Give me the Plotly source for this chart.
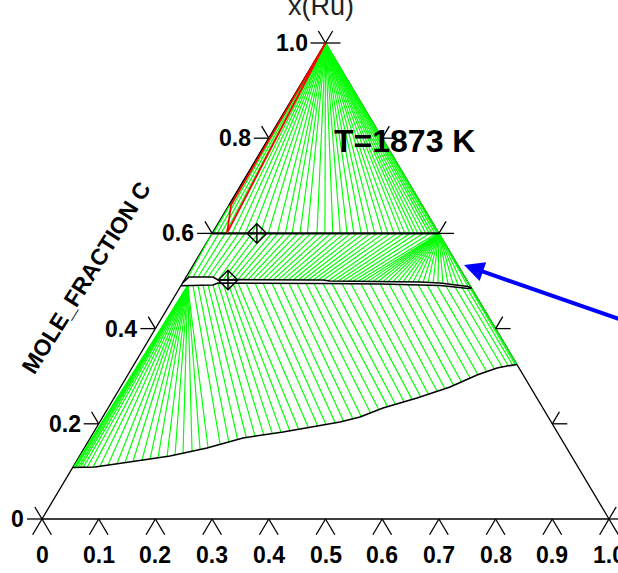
import plotly.graph_objects as go

# ---------------- data (mole fractions: A = bottom-axis component, C = MOLE_FRACTION C) -------------
LEFT_TICKS = [0, 0.2, 0.4, 0.6, 0.8, 1.0]
LEFT_LABELS = ["0", "0.2", "0.4", "0.6", "0.8", "1.0"]
RIGHT_TICKS = [0, 0.2, 0.4, 0.6, 0.8, 1.0]
BOTTOM_TICKS = [0, 0.1, 0.2, 0.3, 0.4, 0.5, 0.6, 0.7, 0.8, 0.9, 1.0]
BOTTOM_LABELS = ["0", "0.1", "0.2", "0.3", "0.4", "0.5", "0.6", "0.7", "0.8", "0.9", "1.0"]

# liquid boundary (lower curve)
LIQ_A = [0.0, 0.0389, 0.1162, 0.1595, 0.2164, 0.2694, 0.3336, 0.3761, 0.4237, 0.4537,
         0.4848, 0.5343, 0.581, 0.616, 0.6439, 0.6594, 0.6756]
LIQ_C = [0.108, 0.1092, 0.1239, 0.1324, 0.1492, 0.1702, 0.1828, 0.1933, 0.2038, 0.2143,
         0.2332, 0.2542, 0.2773, 0.3025, 0.3172, 0.3214, 0.3244]

# MC band boundaries
MC_UP_A = [0.0, 0.005, 0.0474, 0.0594, 0.0977, 0.204, 0.2446, 0.258, 0.3467, 0.4177, 0.454, 0.4821, 0.5071, 0.5147]
MC_UP_C = [0.496, 0.5084, 0.5084, 0.5021, 0.503, 0.5021, 0.5021, 0.500, 0.4989, 0.4979, 0.4958, 0.4926, 0.4884, 0.4853]
MC_LO_A = [0.0, 0.016, 0.0558, 0.0625, 0.1013, 0.2077, 0.2483, 0.3493, 0.4204, 0.4567, 0.4847, 0.5092, 0.5147]
MC_LO_C = [0.490, 0.4905, 0.4916, 0.4958, 0.4958, 0.4947, 0.4947, 0.4937, 0.4926, 0.4905, 0.4874, 0.4842, 0.4853]

# line compound at C = 0.6
M2C3_C = 0.6
M2C3_A = [0.0, 0.4]

# tie lines graphite (C=1) -> C=0.6 compound
UP_TIE_A = [0.002, 0.009, 0.016, 0.023, 0.035, 0.046, 0.058, 0.071, 0.085, 0.099, 0.115, 0.129,
            0.141, 0.155, 0.168, 0.185, 0.199, 0.213, 0.226, 0.238, 0.250, 0.263, 0.275, 0.287,
            0.300, 0.310, 0.321, 0.332, 0.340, 0.349, 0.356, 0.363, 0.370, 0.377, 0.383, 0.388,
            0.393, 0.397, 0.400]

# tie lines MC band (upper side) -> C=0.6 compound
MID_MC_A = [0.0033, 0.0121, 0.0209, 0.0298, 0.0386, 0.0474, 0.0594, 0.0680, 0.0765, 0.0853,
            0.0941, 0.1030, 0.1118, 0.1206, 0.1296, 0.1385, 0.1473, 0.1561, 0.1651, 0.1739,
            0.1828, 0.1917, 0.2005, 0.2093, 0.2181, 0.2269, 0.2358, 0.2446, 0.2541, 0.2632,
            0.2721, 0.2810, 0.2899, 0.2987, 0.3076, 0.3165, 0.3254, 0.3343, 0.3431, 0.3521,
            0.3609, 0.3698, 0.3788, 0.3876, 0.3965, 0.4053, 0.4142, 0.4233, 0.4324, 0.4415,
            0.4505, 0.4596, 0.4690, 0.4784, 0.4879, 0.4976, 0.5071, 0.5147]
MID_MC_C = [0.5084, 0.5084, 0.5084, 0.5084, 0.5084, 0.5084, 0.5021, 0.5025, 0.5030, 0.5032,
            0.5032, 0.5030, 0.5030, 0.5030, 0.5027, 0.5027, 0.5025, 0.5025, 0.5023, 0.5023,
            0.5021, 0.5021, 0.5021, 0.5021, 0.5021, 0.5021, 0.5021, 0.5021, 0.5006, 0.5000,
            0.4999, 0.4998, 0.4997, 0.4996, 0.4995, 0.4993, 0.4992, 0.4991, 0.4990, 0.4987,
            0.4986, 0.4985, 0.4983, 0.4982, 0.4981, 0.4980, 0.4979, 0.4974, 0.4968, 0.4963,
            0.4958, 0.4952, 0.4941, 0.4931, 0.4916, 0.4899, 0.4884, 0.4853]
MID_CMP_A = [0.000, 0.012, 0.023, 0.035, 0.047, 0.058, 0.070, 0.081, 0.093, 0.105,
             0.116, 0.128, 0.140, 0.151, 0.163, 0.174, 0.186, 0.198, 0.209, 0.221,
             0.233, 0.244, 0.256, 0.267, 0.279, 0.291, 0.302, 0.314, 0.326, 0.337,
             0.349, 0.360, 0.372, 0.384, 0.395, 0.400, 0.400, 0.400, 0.400, 0.400,
             0.400, 0.400, 0.400, 0.400, 0.400, 0.400, 0.400, 0.400, 0.400, 0.400,
             0.400, 0.400, 0.400, 0.400, 0.400, 0.400, 0.400, 0.400]

# tie lines MC band (lower side) -> liquid
LOW_MC_A = [0.012] * 23 + [
    0.0209, 0.0296, 0.0384, 0.0471, 0.0558, 0.0625, 0.0713, 0.0801, 0.0890, 0.0978,
    0.1120, 0.1279, 0.1421, 0.1580, 0.1722, 0.1881, 0.2024, 0.2183, 0.2324, 0.2483,
    0.2643, 0.2820, 0.2980, 0.3157, 0.3316, 0.3493, 0.3653, 0.3830, 0.3990, 0.4168,
    0.4331, 0.4512, 0.4680, 0.4847, 0.4979, 0.5073, 0.5125, 0.5147]
LOW_MC_C = [0.490] * 23 + [
    0.4908, 0.4910, 0.4912, 0.4914, 0.4916, 0.4958, 0.4958, 0.4958, 0.4958, 0.4958,
    0.4957, 0.4956, 0.4954, 0.4952, 0.4952, 0.4950, 0.4947, 0.4947, 0.4947, 0.4947,
    0.4945, 0.4943, 0.4941, 0.4939, 0.4939, 0.4937, 0.4935, 0.4933, 0.4931, 0.4926,
    0.4918, 0.4908, 0.4891, 0.4874, 0.4857, 0.4847, 0.4849, 0.4853]
LOW_LIQ_A = [0.001, 0.0026, 0.0044, 0.0062, 0.0098, 0.0133, 0.0186, 0.0253, 0.0354, 0.0467,
             0.0595, 0.0740, 0.0869, 0.0998, 0.1146, 0.1274, 0.1402, 0.1548, 0.1672, 0.1794,
             0.1933, 0.2056, 0.2178,
             0.2358, 0.2486, 0.2616, 0.2747, 0.2887, 0.3027, 0.3166, 0.3307, 0.3443, 0.3580,
             0.3732, 0.3881, 0.4014, 0.4161, 0.4289, 0.4429, 0.4553, 0.4680, 0.4792, 0.4915,
             0.5028, 0.5154, 0.5268, 0.5394, 0.5504, 0.5627, 0.5738, 0.5856, 0.5957, 0.6069,
             0.6172, 0.6293, 0.6402, 0.6520, 0.6615, 0.6686, 0.6727, 0.6756]
LOW_LIQ_C = [0.1078, 0.1076, 0.1076, 0.1076, 0.1074, 0.1074, 0.1074, 0.1082, 0.1090, 0.1113,
             0.1139, 0.1166, 0.1191, 0.1214, 0.1237, 0.1263, 0.1288, 0.1315, 0.1349, 0.1387,
             0.1426, 0.1462, 0.1500,
             0.1569, 0.1620, 0.1668, 0.1712, 0.1740, 0.1767, 0.1794, 0.1821, 0.1855, 0.1889,
             0.1926, 0.1960, 0.1987, 0.2021, 0.2057, 0.2105, 0.2151, 0.2229, 0.2296, 0.2361,
             0.2410, 0.2464, 0.2513, 0.2567, 0.2622, 0.2683, 0.2737, 0.2807, 0.2880, 0.2962,
             0.3032, 0.3097, 0.3153, 0.3193, 0.3218, 0.3231, 0.3240, 0.3244]

# three-phase triangle (red)
RED_A = [0.0, 0.0035, 0.026, 0.0]
RED_C = [1.0, 0.660, 0.601, 1.0]

# diamond markers
DIA_A = [0.079, 0.077]
DIA_C = [0.600, 0.502]

TEMP_LABEL = "T=1873 K"


def tx(a, c):
    return a + c / 2.0


def seg_trace(pairs, color, width):
    xs, ys = [], []
    for (a1, c1, a2, c2) in pairs:
        xs += [tx(a1, c1), tx(a2, c2), None]
        ys += [c1, c2, None]
    return go.Scatter(x=xs, y=ys, mode="lines", line=dict(color=color, width=width),
                      hoverinfo="skip")


def poly_trace(A, C, color, width):
    return go.Scatter(x=[tx(a, c) for a, c in zip(A, C)], y=list(C), mode="lines",
                      line=dict(color=color, width=width), hoverinfo="skip")


fig = go.Figure()

# triangle outline
fig.add_trace(poly_trace([0, 1, 0, 0], [0, 0, 1, 0], "black", 1.3))

# green tie lines
green = []
for a in UP_TIE_A:
    green.append((0.0, 1.0, a, M2C3_C))
for a1, c1, a2 in zip(MID_MC_A, MID_MC_C, MID_CMP_A):
    green.append((a1, c1, a2, M2C3_C))
for a1, c1, a2, c2 in zip(LOW_MC_A, LOW_MC_C, LOW_LIQ_A, LOW_LIQ_C):
    green.append((a1, c1, a2, c2))
fig.add_trace(seg_trace(green, "#00ff00", 1.15))

# phase boundaries
fig.add_trace(poly_trace(LIQ_A, LIQ_C, "black", 1.5))
fig.add_trace(poly_trace(MC_UP_A, MC_UP_C, "black", 1.5))
fig.add_trace(poly_trace(MC_LO_A, MC_LO_C, "black", 1.5))
fig.add_trace(poly_trace(M2C3_A, [M2C3_C, M2C3_C], "black", 2.4))
# upper left edge (visible black above the red triangle)
fig.add_trace(poly_trace([0, 0], [1.0, 0.66], "black", 1.3))

# ticks
hl = 15 / 567.0
kd = 0.0253
kb = 0.033
ticks = []
for t in LEFT_TICKS:
    X, Y = t / 2.0, t
    ticks.append((X, Y, X - hl, Y))
    ticks.append((X, Y, X - 0.5 * kd, Y + kd))
for t in RIGHT_TICKS:
    X, Y = 1 - t / 2.0, t
    ticks.append((X, Y, X + hl, Y))
    ticks.append((X, Y, X + 0.5 * kd, Y + kd))
for t in BOTTOM_TICKS:
    ticks.append((t, 0, t - 0.5 * kb, -kb))
    ticks.append((t, 0, t + 0.5 * kb, -kb))
txs, tys = [], []
for x1, y1, x2, y2 in ticks:
    txs += [x1, x2, None]
    tys += [y1, y2, None]
fig.add_trace(go.Scatter(x=txs, y=tys, mode="lines", line=dict(color="black", width=1.3),
                         hoverinfo="skip"))

# red three-phase triangle
fig.add_trace(poly_trace(RED_A, RED_C, "#ff0000", 1.8))

# diamonds
fig.add_trace(go.Scatter(x=[tx(a, c) for a, c in zip(DIA_A, DIA_C)], y=DIA_C, mode="markers",
                         marker=dict(symbol="diamond-cross-open", size=15,
                                     color="black", line=dict(color="black", width=1.4)),
                         hoverinfo="skip"))

FONT = "Liberation Sans, Arial, sans-serif"
ann = []
for t, lab in zip(LEFT_TICKS, LEFT_LABELS):
    ann.append(dict(x=t / 2.0 - hl, y=t, xref="x", yref="y", text=lab, showarrow=False,
                    xanchor="right", yanchor="middle", xshift=-1,
                    font=dict(family=FONT, size=23, color="black", weight="bold")))
for t, lab in zip(BOTTOM_TICKS, BOTTOM_LABELS):
    ann.append(dict(x=t, y=0, xref="x", yref="y", text=lab, showarrow=False,
                    xanchor="center", yanchor="middle", yshift=-36,
                    font=dict(family=FONT, size=23, color="black", weight="bold")))
ann.append(dict(x=0.0776, y=0.506, xref="x", yref="y", text="MOLE_FRACTION C", showarrow=False,
                textangle=-58, xanchor="center", yanchor="middle",
                font=dict(family=FONT, size=23, color="black", weight="bold")))
ann.append(dict(x=0.5, y=1.069, xref="x", yref="y", text="x(Ru)", showarrow=False,
                xanchor="center", yanchor="middle", xshift=-5, yshift=4,
                font=dict(family=FONT, size=27, color="#222222")))
ann.append(dict(x=0.511, y=0.794, xref="x", yref="y", text=TEMP_LABEL, showarrow=False,
                xanchor="left", yanchor="middle",
                font=dict(family=FONT, size=32, color="black", weight="bold")))
ann.append(dict(x=0.7443, y=0.5336, xref="x", yref="y", ax=1.03, ay=0.415, axref="x", ayref="y",
                text="", showarrow=True, arrowhead=2, arrowsize=1.0, arrowwidth=4,
                arrowcolor="#0000ff"))

fig.update_layout(
    width=618, height=573, margin=dict(l=0, r=0, t=0, b=0),
    paper_bgcolor="white", plot_bgcolor="white", showlegend=False,
    xaxis=dict(range=[-42 / 567.0, 576 / 567.0], visible=False, fixedrange=True),
    yaxis=dict(range=[-54 / 476.0, 519 / 476.0], visible=False, fixedrange=True),
    annotations=ann,
)

fig.write_html("out.html")
